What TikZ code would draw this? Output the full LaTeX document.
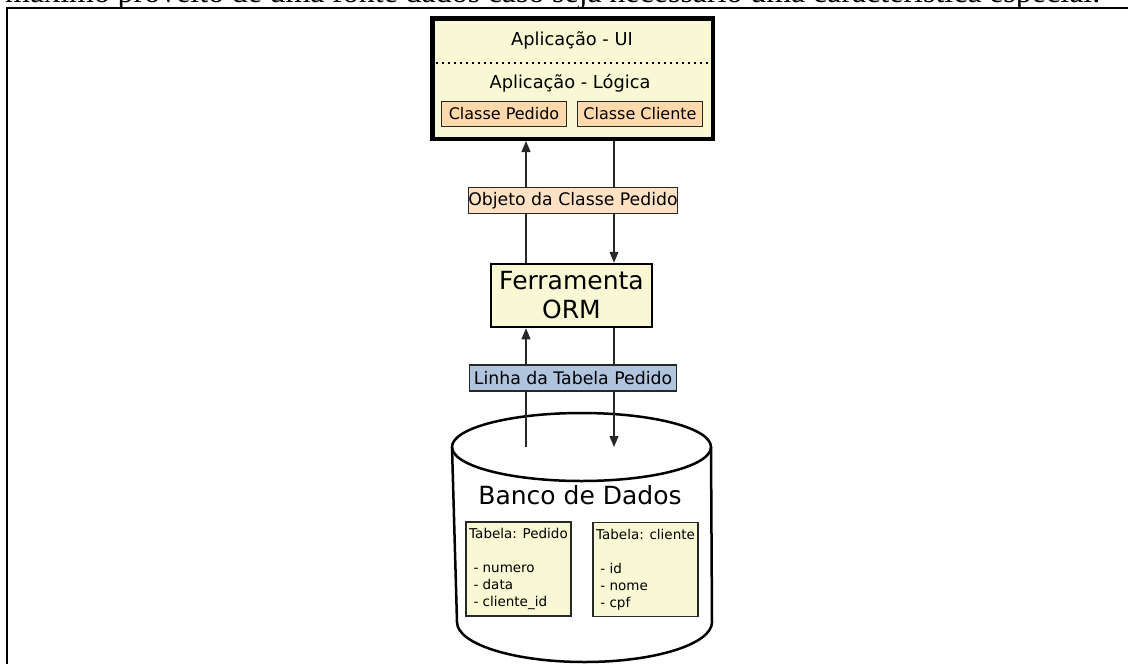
\documentclass[tikz,border=0pt]{standalone}
\usepackage{fontspec}
\setmainfont{Liberation Serif}
\newfontfamily\diafont{DejaVu Sans}
\usetikzlibrary{arrows.meta,positioning}
\definecolor{figyellow}{RGB}{248,248,212}
\definecolor{figpeach}{RGB}{255,216,172}
\definecolor{figlightpeach}{RGB}{255,226,196}
\definecolor{figsteel}{RGB}{176,196,222}
\definecolor{figline}{RGB}{40,40,40}
\tikzset{
  appbox/.style={draw=black, line width=4.5pt, fill=figyellow, minimum width=280.5pt, minimum height=120.5pt, inner sep=0pt},
  classbox/.style={draw=figline, line width=1.3pt, fill=figpeach, minimum width=125pt, minimum height=25pt, inner sep=0pt, font=\diafont\fontsize{16}{19}\selectfont},
  ormbox/.style={draw=black, line width=2.5pt, fill=figyellow, minimum width=161pt, minimum height=63pt, inner sep=0pt, align=center, font=\diafont\fontsize{25}{29}\selectfont},
  flowlabel/.style={draw=figline, line width=1.2pt, minimum width=207pt, minimum height=26pt, inner sep=0pt, font=\diafont\fontsize{17.3}{20}\selectfont},
  tablebox/.style={draw=figline, line width=1.8pt, fill=figyellow, minimum width=105pt, minimum height=94pt, inner sep=0pt, align=left, font=\diafont\fontsize{13.5}{17}\selectfont},
  layertext/.style={font=\diafont\fontsize{17.8}{21}\selectfont},
  line/.style={-{Triangle[length=11pt,width=9pt]}, draw=figline, line width=1.2pt}
}

\begin{document}
\begin{tikzpicture}[x=1pt,y=-1pt]
  \useasboundingbox (0,0) rectangle (1128,664);
  \node[anchor=base west, inner sep=0pt, font=\fontsize{32}{38}\selectfont] (pagetext) at (5,2) {\makebox[1095pt][s]{máximo proveito de uma fonte dados caso seja necessário uma característica especial.}};
  \draw[line width=1.5pt] (7,700) -- (7,8) -- (1140,8);

  \node[appbox] (app) at (572.5,78.5) {};
  \coordinate (split) at (572,63);
  \node[layertext] (ui) at (572,40) {Aplicação - UI};
  \draw[dash pattern=on 1.5pt off 4.5pt, line width=1.3pt] (app.west |- split) -- (app.east |- split);
  \node[layertext] (logic) at (570,83) {Aplicação - Lógica};
  \node[classbox] (pedidoclass) at (504,114) {Classe Pedido};
  \node[classbox] (clienteclass) at (640,114) {Classe Cliente};

  \node[ormbox] (orm) at (571.5,295.5) {Ferramenta\\ORM};

  \coordinate (dbtop) at (581.5,447);
  \draw[line width=2.5pt, fill=white] (452,447) -- (457,622) arc[start angle=180, end angle=0, x radius=127.5, y radius=40] -- (711,447);
  \draw[line width=2.5pt] (dbtop) ellipse[x radius=129.5, y radius=34];
  \node[font=\diafont\fontsize{25}{29}\selectfont] (dbtitle) at (580,495) {Banco de Dados};
  \node[tablebox] (pedidotable) at (518.5,569) {Tabela: Pedido\\[17pt]\ - numero\\\ - data\\\ - cliente\_id};
  \node[tablebox] (clientetable) at (645.5,569.5) {Tabela: cliente\\[17pt]\ - id\\\ - nome\\\ - cpf};

  \coordinate (upline) at (526,0);
  \coordinate (downline) at (614,0);
  \draw[line] (orm.north -| upline) -- (app.south -| upline);
  \draw[line] (app.south -| downline) -- (orm.north -| downline);
  \draw[line] (dbtop -| upline) -- (orm.south -| upline);
  \draw[line] (orm.south -| downline) -- (dbtop -| downline);

  \node[flowlabel, fill=figlightpeach] (objlabel) at (573,200.5) {Objeto da Classe Pedido};
  \node[flowlabel, fill=figsteel] (rowlabel) at (573,378) {Linha da Tabela Pedido};
\end{tikzpicture}
\end{document}
